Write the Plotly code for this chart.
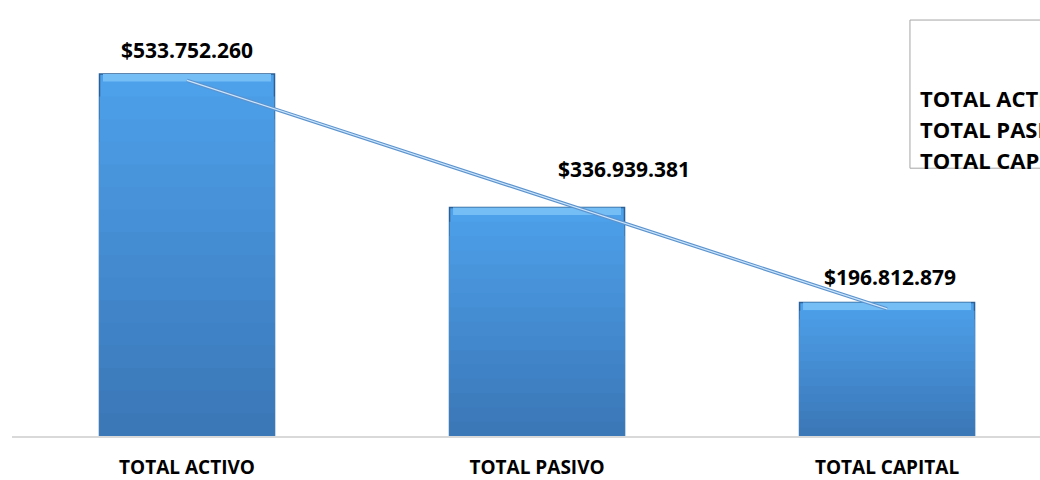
import numpy as np
import plotly.graph_objects as go

# datos del balance
categorias = ["TOTAL ACTIVO", "TOTAL PASIVO", "TOTAL CAPITAL"]
valores = [533752260, 336939381, 196812879]
etiquetas = ["$533.752.260", "$336.939.381", "$196.812.879"]

# linea de tendencia lineal (como la de Excel)
xi = np.arange(len(valores))
m, b = np.polyfit(xi, valores, 1)
tendencia = m * xi + b

fig = go.Figure()

# barras con degradado: se superponen barras mas bajas y mas oscuras
arriba = np.array([0x4d, 0xa0, 0xea])
abajo = np.array([0x3b, 0x78, 0xb8])
pasos = 16
for i in range(pasos):
    f = 1 - i / pasos
    c = arriba + (abajo - arriba) * (i / (pasos - 1))
    fig.add_trace(go.Bar(
        x=categorias, y=[v * f for v in valores], width=0.5,
        marker=dict(color="rgb(%d,%d,%d)" % tuple(c),
                    line=dict(color="#2b5f95", width=1.5 if i == 0 else 0)),
        showlegend=False, hoverinfo="skip" if i else None,
    ))

# bisel claro arriba de cada barra
bisel = 11e6
fig.add_trace(go.Bar(
    x=categorias, y=[bisel] * 3, base=[v - bisel for v in valores], width=0.48,
    marker=dict(color="#74bdf5", line=dict(width=0)),
    showlegend=False, hoverinfo="skip",
))

# linea doble: borde oscuro + centro claro
fig.add_trace(go.Scatter(x=categorias, y=tendencia, mode="lines",
                         line=dict(color="#5b93cf", width=3.5), showlegend=False))
fig.add_trace(go.Scatter(x=categorias, y=tendencia, mode="lines",
                         line=dict(color="#cde5fa", width=1.2), showlegend=False))

# etiquetas de valor (Excel movio la segunda)
desp_x = [0, 87, 3]
desp_y = [24, 38, 26]
for c, v, t, dx, dy in zip(categorias, valores, etiquetas, desp_x, desp_y):
    fig.add_annotation(x=c, y=v, text="<b>%s</b>" % t, showarrow=False,
                       xshift=dx, yshift=dy, yanchor="middle",
                       font=dict(family="Open Sans", size=21, color="black"))

# cuadro de leyenda (cortado por el borde derecho)
fig.add_shape(type="rect", xref="paper", yref="paper",
              x0=0.8735, x1=1.05, y0=0.658, y1=1.022,
              line=dict(color="#a6a6a6", width=1), fillcolor="white")
for t, yy in zip(categorias, [0.831, 0.754, 0.678]):
    fig.add_annotation(xref="paper", yref="paper", x=0.881, y=yy,
                       text="<b>%s</b>" % t, showarrow=False,
                       xanchor="left", yanchor="middle",
                       font=dict(family="Open Sans", size=22, color="black"))

fig.update_layout(
    width=1040, height=480,
    margin=dict(l=12, r=0, t=29, b=44),
    paper_bgcolor="white", plot_bgcolor="white",
    barmode="overlay",
    xaxis=dict(range=[-0.5, 2.437], showline=True, linecolor="#d9d9d9", linewidth=2,
               showgrid=False, ticks="", ticklabelstandoff=13,
               tickfont=dict(family="Open Sans", size=19, color="black"),
               tickvals=categorias, ticktext=["<b>%s</b>" % c for c in categorias],
               automargin=False),
    yaxis=dict(range=[0, 600000000], visible=False, automargin=False),
)

# sin margen en el body para que la figura ocupe toda la ventana
fig.write_html("out.html", config={"displayModeBar": False},
               post_script="document.body.style.margin='0';document.body.style.overflow='hidden';")
